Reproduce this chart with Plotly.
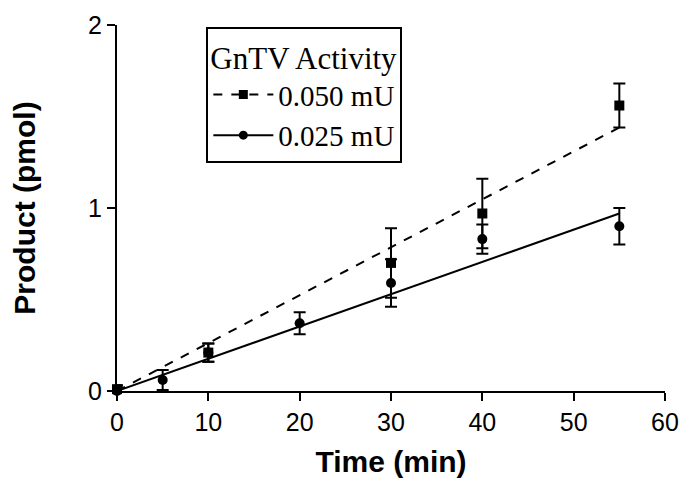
import plotly.graph_objects as go

# Data
time_050 = [0, 10, 30, 40, 55]
prod_050 = [0.01, 0.21, 0.70, 0.97, 1.56]
err_050 = [0.02, 0.05, 0.19, 0.19, 0.12]

time_025 = [0, 5, 10, 20, 30, 40, 55]
prod_025 = [0.0, 0.06, 0.21, 0.37, 0.59, 0.83, 0.90]
err_025 = [0.03, 0.055, 0.05, 0.06, 0.13, 0.08, 0.10]

fit_x = [0, 55]
fit_050 = [0.0, 1.44]
fit_025 = [0.0, 0.97]

series_names = ["0.050 mU", "0.025 mU"]
legend_title = "GnTV Activity"
x_ticks = [0, 10, 20, 30, 40, 50, 60]
y_ticks = [0, 1, 2]

fig = go.Figure()

# fit lines
fig.add_trace(go.Scatter(x=fit_x, y=fit_050, mode="lines", showlegend=False,
                         line=dict(color="black", width=2, dash="dash"), cliponaxis=False))
fig.add_trace(go.Scatter(x=fit_x, y=fit_025, mode="lines", showlegend=False,
                         line=dict(color="black", width=2), cliponaxis=False))

# data points
fig.add_trace(go.Scatter(x=time_050, y=prod_050, mode="markers", showlegend=False,
                         marker=dict(symbol="square", size=10, color="black"),
                         error_y=dict(type="data", array=err_050, color="black", thickness=2, width=6),
                         cliponaxis=False))
fig.add_trace(go.Scatter(x=time_025, y=prod_025, mode="markers", showlegend=False,
                         marker=dict(symbol="circle", size=10, color="black"),
                         error_y=dict(type="data", array=err_025, color="black", thickness=2, width=6),
                         cliponaxis=False))

# legend entries
fig.add_trace(go.Scatter(x=[None], y=[None], mode="lines+markers", name=series_names[0],
                         line=dict(color="black", width=2, dash="dash"),
                         marker=dict(symbol="square", size=9, color="black")))
fig.add_trace(go.Scatter(x=[None], y=[None], mode="lines+markers", name=series_names[1],
                         line=dict(color="black", width=2),
                         marker=dict(symbol="circle", size=9, color="black")))

fig.update_layout(
    width=679, height=479,
    margin=dict(l=117, r=14, t=25, b=88, autoexpand=False),
    paper_bgcolor="white", plot_bgcolor="white",
    font=dict(family="Liberation Sans", color="black"),
    legend=dict(
        title=dict(text=legend_title, font=dict(family="Liberation Serif", size=31, color="black"),
                   side="top"),
        font=dict(family="Liberation Serif", size=29, color="black"),
        x=0.163, y=0.995, xanchor="left", yanchor="top",
        bordercolor="black", borderwidth=2, bgcolor="white",
        itemwidth=60, tracegroupgap=0,
    ),
    xaxis=dict(
        range=[0, 60], tickvals=x_ticks, showgrid=False, zeroline=False,
        showline=True, linecolor="black", linewidth=2, automargin=False,
        ticks="outside", ticklen=8, tickwidth=2, tickcolor="black",
        tickfont=dict(family="Liberation Sans", size=25, color="black"),
        title=dict(text="Time (min)", font=dict(family="Liberation Sans", size=30, weight="bold"),
                   standoff=16),
    ),
    yaxis=dict(
        range=[0, 2], tickvals=y_ticks, showgrid=False, zeroline=False,
        showline=True, linecolor="black", linewidth=2, automargin=False,
        ticks="outside", ticklen=8, tickwidth=2, tickcolor="black",
        tickfont=dict(family="Liberation Sans", size=25, color="black"),
        title=dict(text="Product (pmol)", font=dict(family="Liberation Sans", size=30, weight="bold"),
                   standoff=44),
    ),
)

fig.write_html("out.html")
